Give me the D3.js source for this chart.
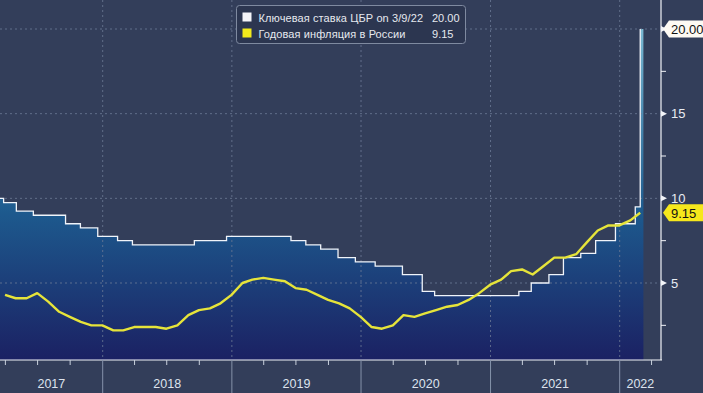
<!DOCTYPE html>
<html>
<head>
<meta charset="utf-8">
<script src="https://cdn.jsdelivr.net/npm/d3@7"></script>
<style>
  html, body { margin: 0; padding: 0; background: #333e5a; }
  svg { display: block; font-family: "Liberation Sans", Arial, sans-serif; }
</style>
</head>
<body>
<div id="chart"></div>
<script>
// key rate of the Bank of Russia (date it took effect, level)
var rateDates = ["2017-03-01","2017-03-27","2017-05-02","2017-06-19","2017-09-18","2017-10-30","2017-12-18",
  "2018-02-12","2018-03-26","2018-09-17","2018-12-17","2019-06-17","2019-07-29","2019-09-09","2019-10-28",
  "2019-12-16","2020-02-10","2020-04-27","2020-06-22","2020-07-27","2021-03-22","2021-04-26","2021-06-15",
  "2021-07-26","2021-09-13","2021-10-25","2021-12-20","2022-02-14","2022-02-28","2022-03-09"];
var rateValues = [10.00,9.75,9.25,9.00,8.50,8.25,7.75,7.50,7.25,7.50,7.75,7.50,7.25,7.00,6.50,
  6.25,6.00,5.50,4.50,4.25,4.50,5.00,5.50,6.50,6.75,7.50,8.50,9.50,20.00,20.00];

// yearly inflation, monthly from March 2017 to February 2022
var inflMonths = d3.timeMonths(new Date(2017, 2, 1), new Date(2022, 2, 1));
var inflValues = [4.3,4.1,4.1,4.4,3.9,3.3,3.0,2.7,2.5,2.5,
  2.2,2.2,2.4,2.4,2.4,2.3,2.5,3.1,3.4,3.5,3.8,4.3,
  5.0,5.2,5.3,5.2,5.1,4.7,4.6,4.3,4.0,3.8,3.5,3.0,
  2.4,2.3,2.5,3.1,3.0,3.2,3.4,3.6,3.7,4.0,4.4,4.9,
  5.2,5.7,5.8,5.5,6.0,6.5,6.5,6.7,7.4,8.1,8.4,8.4,
  8.7,9.15];

var yTicks = [5, 10, 15, 20];
var yLabels = [5, 10, 15]; // 20 sits under the last value tag
var yMinor = [2.5, 7.5, 12.5, 17.5];
var legendRows = [
  {name: "Ключевая ставка ЦБР on 3/9/22", value: "20.00", color: "#f4f4f8"},
  {name: "Годовая инфляция в России", value: "9.15", color: "#f2ea1c"}
];

var width = 703, height = 393;
var plotRight = 661, plotBottom = 360;

var parse = d3.timeParse("%Y-%m-%d");
var rate = rateDates.map((d, i) => ({date: parse(d), value: rateValues[i]}));
rate[0].date = new Date(2017, 1, 1);
var infl = inflMonths.map((m, i) => ({date: d3.timeDay.offset(d3.timeMonth.offset(m, 1), -1), value: inflValues[i]}));

var x = d3.scaleTime()
  .domain([new Date(2018, 0, 1), new Date(2022, 0, 1)])
  .range([102.7, 619.7]);
var y = d3.scaleLinear().domain([5, 20]).range([283, 29]);

var svg = d3.select("#chart").append("svg")
  .attr("width", width)
  .attr("height", height);

var defs = svg.append("defs");
var grad = defs.append("linearGradient")
  .attr("id", "areaGrad")
  .attr("gradientUnits", "userSpaceOnUse")
  .attr("x1", 0).attr("x2", 0)
  .attr("y1", y(20)).attr("y2", plotBottom);
grad.append("stop").attr("offset", 0).attr("stop-color", "#79b8d2");
grad.append("stop").attr("offset", 0.55).attr("stop-color", "#1d5a8e");
grad.append("stop").attr("offset", 1).attr("stop-color", "#1b2163");

defs.append("clipPath").attr("id", "plotClip")
  .append("rect").attr("x", 0).attr("y", 0).attr("width", plotRight).attr("height", plotBottom);

// background
svg.append("rect").attr("width", width).attr("height", height).attr("fill", "#333e5a");

var plot = svg.append("g").attr("clip-path", "url(#plotClip)");

// area under key rate
var area = d3.area()
  .curve(d3.curveStepAfter)
  .x(d => x(d.date))
  .y0(plotBottom)
  .y1(d => y(d.value));

plot.append("path")
  .datum(rate)
  .attr("fill", "url(#areaGrad)")
  .attr("d", area);

// grid
var years = d3.timeYears(new Date(2018, 0, 1), new Date(2023, 0, 1)).filter(d => x(d) < plotRight);
plot.append("g")
  .selectAll("line")
  .data(yTicks)
  .join("line")
  .attr("x1", 0).attr("x2", plotRight)
  .attr("y1", d => y(d)).attr("y2", d => y(d))
  .attr("stroke", "#6d7b96")
  .attr("stroke-opacity", 0.8)
  .attr("stroke-dasharray", "2,3");

plot.append("g")
  .selectAll("line")
  .data(years)
  .join("line")
  .attr("x1", d => x(d)).attr("x2", d => x(d))
  .attr("y1", 0).attr("y2", plotBottom)
  .attr("stroke", "#6d7b96")
  .attr("stroke-opacity", 0.8)
  .attr("stroke-dasharray", "2,3");

// key rate line
var rateLine = d3.line()
  .curve(d3.curveStepAfter)
  .x(d => x(d.date))
  .y(d => y(d.value));

plot.append("path")
  .datum(rate.slice(0, -1))
  .attr("fill", "none")
  .attr("stroke", "#f0f4fa")
  .attr("stroke-width", 1.3)
  .attr("d", rateLine);

// inflation
var inflLine = d3.line()
  .x(d => x(d.date))
  .y(d => y(d.value));

plot.append("path")
  .datum(infl)
  .attr("fill", "none")
  .attr("stroke", "#e6e43a")
  .attr("stroke-width", 2.4)
  .attr("stroke-linejoin", "round")
  .attr("d", inflLine);

// bottom axis
svg.append("line")
  .attr("x1", 0).attr("x2", plotRight + 1)
  .attr("y1", plotBottom).attr("y2", plotBottom)
  .attr("stroke", "#f2f4f8").attr("stroke-width", 1.2);

svg.append("line")
  .attr("x1", plotRight).attr("x2", plotRight)
  .attr("y1", 0).attr("y2", plotBottom)
  .attr("stroke", "#f2f4f8").attr("stroke-width", 1.2);

var quarters = d3.timeMonths(new Date(2017, 3, 1), new Date(2022, 6, 1), 3)
  .filter(d => d.getMonth() !== 0 && x(d) < plotRight);
svg.append("g")
  .selectAll("line")
  .data(quarters)
  .join("line")
  .attr("x1", d => x(d)).attr("x2", d => x(d))
  .attr("y1", plotBottom).attr("y2", plotBottom + 5)
  .attr("stroke", "#c8d0dc");

svg.append("g")
  .selectAll("line")
  .data(years)
  .join("line")
  .attr("x1", d => x(d)).attr("x2", d => x(d))
  .attr("y1", plotBottom).attr("y2", height)
  .attr("stroke", "#8592aa");

var yearStarts = [new Date(2017, 0, 1)].concat(years);
svg.append("g")
  .selectAll("text")
  .data(yearStarts)
  .join("text")
  .attr("x", d => {
    var a = Math.max(0, x(d));
    var b = Math.min(plotRight, x(d3.timeYear.offset(d, 1)));
    return (a + b) / 2;
  })
  .attr("y", 388)
  .attr("text-anchor", "middle")
  .attr("fill", "#dde3ee")
  .attr("font-size", 12.5)
  .text(d => d.getFullYear());

// right axis ticks
svg.append("g")
  .selectAll("path")
  .data(yTicks)
  .join("path")
  .attr("d", d => `M${plotRight},${y(d) - 3}L${plotRight + 6},${y(d)}L${plotRight},${y(d) + 3}Z`)
  .attr("fill", "#f2f4f8");

svg.append("g")
  .selectAll("line")
  .data(yMinor)
  .join("line")
  .attr("x1", plotRight).attr("x2", plotRight + 5)
  .attr("y1", d => y(d)).attr("y2", d => y(d))
  .attr("stroke", "#f2f4f8");

svg.append("g")
  .selectAll("text")
  .data(yLabels)
  .join("text")
  .attr("x", plotRight + 10)
  .attr("y", d => y(d) + 4.5)
  .attr("fill", "#e8ecf3")
  .attr("font-size", 13)
  .text(d => d);

// last value tags
var tags = [
  {value: rateValues[rateValues.length - 1], label: "20.00", fill: "#fdfaf4"},
  {value: inflValues[inflValues.length - 1], label: "9.15", fill: "#f6e81c"}
];
var tag = svg.append("g").selectAll("g")
  .data(tags)
  .join("g")
  .attr("transform", d => `translate(${plotRight + 2},${y(d.value)})`);

tag.append("path")
  .attr("d", "M0,0L6,-8.5H44V8.5H6Z")
  .attr("fill", d => d.fill);

tag.append("text")
  .attr("x", 8)
  .attr("y", 4.8)
  .attr("fill", "#111")
  .attr("font-size", 13)
  .text(d => d.label);

// legend
var legend = svg.append("g").attr("transform", "translate(236.5,5.5)");
legend.append("rect")
  .attr("width", 229).attr("height", 38)
  .attr("rx", 3)
  .attr("fill", "#2c3650")
  .attr("stroke", "#7f8aa0");

var row = legend.selectAll("g")
  .data(legendRows)
  .join("g")
  .attr("transform", (d, i) => `translate(0,${i * 16})`);

row.append("rect")
  .attr("x", 6).attr("y", 7)
  .attr("width", 9).attr("height", 9)
  .attr("fill", d => d.color);

row.append("text")
  .attr("x", 22).attr("y", 16)
  .attr("fill", "#e6e9ef")
  .attr("font-size", 11)
  .attr("letter-spacing", 0.1)
  .text(d => d.name);

row.append("text")
  .attr("x", (d, i) => i === 0 ? 223 : 217)
  .attr("y", 16)
  .attr("text-anchor", "end")
  .attr("fill", "#e6e9ef")
  .attr("font-size", 11)
  .text(d => d.value);
</script>
</body>
</html>
